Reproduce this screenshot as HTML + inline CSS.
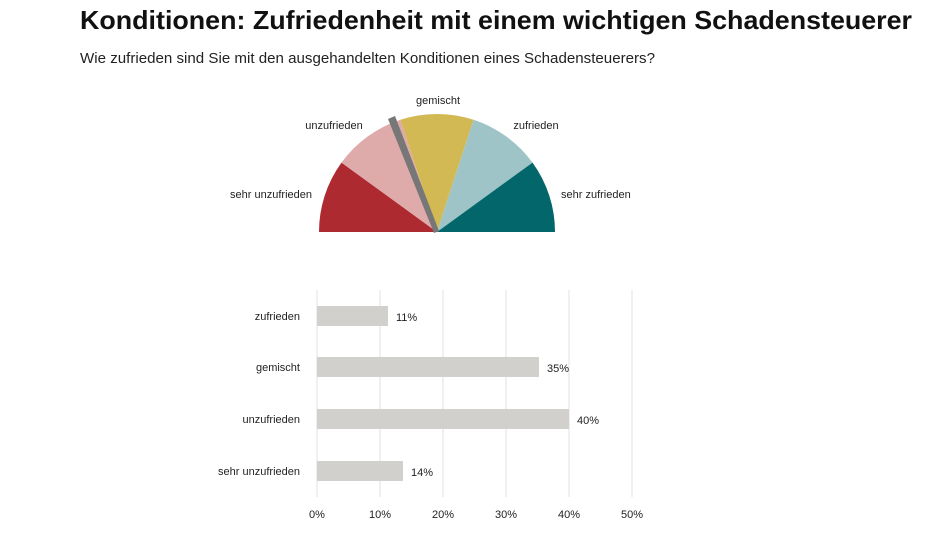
<!DOCTYPE html>
<html><head><meta charset="utf-8"><style>
body{margin:0;width:945px;height:532px;background:#fff;overflow:hidden;font-family:"Liberation Sans",Arial,sans-serif}
</style></head><body>
<svg width="945" height="532" viewBox="0 0 945 532" xmlns="http://www.w3.org/2000/svg" font-family="Liberation Sans, Arial, sans-serif">
<text x="80" y="29" font-size="26" font-weight="bold" fill="#111" textLength="832" lengthAdjust="spacingAndGlyphs">Konditionen: Zufriedenheit mit einem wichtigen Schadensteuerer</text>
<text x="80" y="63" font-size="15" fill="#222" textLength="575" lengthAdjust="spacingAndGlyphs">Wie zufrieden sind Sie mit den ausgehandelten Konditionen eines Schadensteuerers?</text>
<g>
<path d="M437 232 L319 232 A118 118 0 0 1 341.5 162.6 Z" fill="#ad2a31"/>
<path d="M437 232 L341.5 162.6 A118 118 0 0 1 400.5 119.8 Z" fill="#dfaaaa"/>
<path d="M437 232 L400.5 119.8 A118 118 0 0 1 473.5 119.8 Z" fill="#d2b954"/>
<path d="M437 232 L473.5 119.8 A118 118 0 0 1 532.5 162.6 Z" fill="#9fc4c7"/>
<path d="M437 232 L532.5 162.6 A118 118 0 0 1 555 232 Z" fill="#02666b"/>
<polygon points="434,233 388,119 395,116 439,231" fill="#777"/>
</g>
<g font-size="11" fill="#222">
<text x="312" y="198" text-anchor="end">sehr unzufrieden</text>
<text x="334" y="129" text-anchor="middle">unzufrieden</text>
<text x="438" y="104" text-anchor="middle">gemischt</text>
<text x="536" y="129" text-anchor="middle">zufrieden</text>
<text x="561" y="198">sehr zufrieden</text>
</g>
<g stroke="#e2e2e2" stroke-width="1">
<line x1="317" y1="290" x2="317" y2="497"/><line x1="380" y1="290" x2="380" y2="497"/>
<line x1="443" y1="290" x2="443" y2="497"/><line x1="506" y1="290" x2="506" y2="497"/>
<line x1="569" y1="290" x2="569" y2="497"/><line x1="632" y1="290" x2="632" y2="497"/>
</g>
<g fill="#d2d0cc">
<rect x="317" y="306" width="71" height="20"/>
<rect x="317" y="357" width="222" height="20"/>
<rect x="317" y="409" width="252" height="20"/>
<rect x="317" y="461" width="86" height="20"/>
</g>
<g font-size="11" fill="#222">
<text x="300" y="320" text-anchor="end">zufrieden</text>
<text x="300" y="371" text-anchor="end">gemischt</text>
<text x="300" y="423" text-anchor="end">unzufrieden</text>
<text x="300" y="475" text-anchor="end">sehr unzufrieden</text>
<text x="396" y="321">11%</text>
<text x="547" y="372">35%</text>
<text x="577" y="424">40%</text>
<text x="411" y="476">14%</text>
</g>
<g font-size="11" fill="#222" text-anchor="middle">
<text x="317" y="518">0%</text><text x="380" y="518">10%</text><text x="443" y="518">20%</text>
<text x="506" y="518">30%</text><text x="569" y="518">40%</text><text x="632" y="518">50%</text>
</g>
</svg>
</body></html>
